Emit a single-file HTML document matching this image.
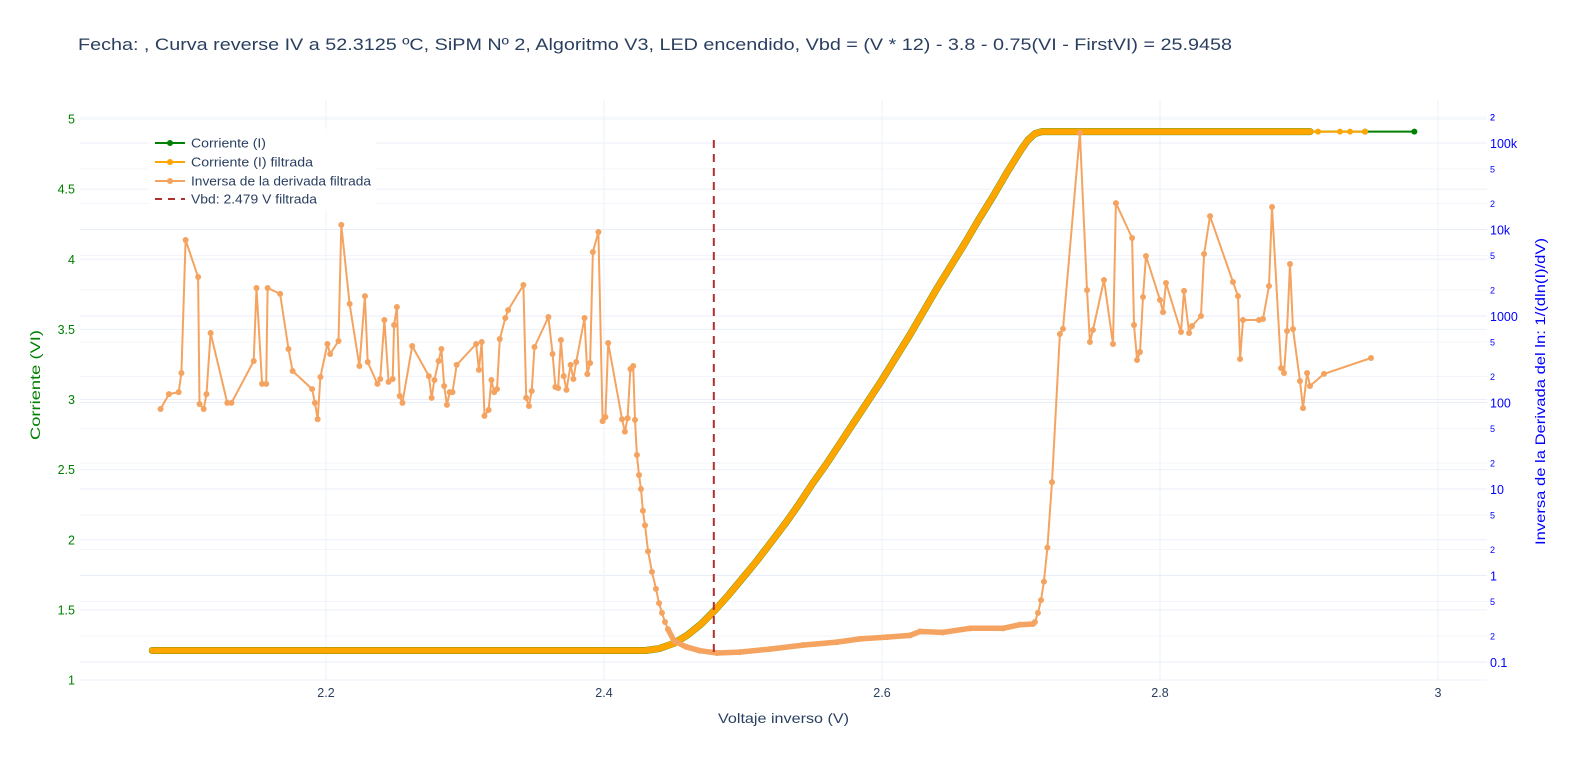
<!DOCTYPE html>
<html><head><meta charset="utf-8"><style>
body{margin:0;background:#fff;font-family:"Liberation Sans",sans-serif}
svg{display:block}
text{font-family:"Liberation Sans",sans-serif}
</style></head><body>
<svg id="chart" width="1576" height="766">
<text x="78" y="50" font-size="17" fill="#2a3f5f" textLength="1154" lengthAdjust="spacingAndGlyphs">Fecha: , Curva reverse IV a 52.3125 ºC, SiPM Nº 2, Algoritmo V3, LED encendido,  Vbd = (V * 12) - 3.8 - 0.75(VI - FirstVI) = 25.9458</text>
<g id="grid"></g>
<g id="axes"></g>
<g id="series"></g>
<text x="718" y="723" font-size="14" fill="#2a3f5f" textLength="131" lengthAdjust="spacingAndGlyphs">Voltaje inverso (V)</text>
<text transform="translate(40,440) rotate(-90)" font-size="14" fill="#008000" textLength="110" lengthAdjust="spacingAndGlyphs">Corriente (VI)</text>
<text transform="translate(1545,545) rotate(-90)" font-size="14" fill="#0000ff" textLength="307" lengthAdjust="spacingAndGlyphs">Inversa de la Derivada del ln: 1/(dln(I)/dV)</text>
<g>
<rect x="148" y="129" width="228" height="82" fill="#fff" fill-opacity="0.9"/>
<g><line x1="155" y1="143" x2="185" y2="143" stroke="#008000" stroke-width="2"/><circle cx="170" cy="143" r="3" fill="#008000"/><text x="191" y="147.5" font-size="12.5" fill="#2a3f5f" textLength="75" lengthAdjust="spacingAndGlyphs">Corriente (I)</text></g>
<g><line x1="155" y1="162" x2="185" y2="162" stroke="#ffa500" stroke-width="2"/><circle cx="170" cy="162" r="3" fill="#ffa500"/><text x="191" y="166.5" font-size="12.5" fill="#2a3f5f" textLength="122" lengthAdjust="spacingAndGlyphs">Corriente (I) filtrada</text></g>
<g><line x1="155" y1="181" x2="185" y2="181" stroke="#f4a460" stroke-width="2"/><circle cx="170" cy="181" r="3" fill="#f4a460"/><text x="191" y="185.5" font-size="12.5" fill="#2a3f5f" textLength="180" lengthAdjust="spacingAndGlyphs">Inversa de la derivada filtrada</text></g>
<g><line x1="155" y1="199" x2="185" y2="199" stroke="#b03030" stroke-width="2" stroke-dasharray="7,6"/><text x="191" y="203.5" font-size="12.5" fill="#2a3f5f" textLength="126" lengthAdjust="spacingAndGlyphs">Vbd: 2.479 V filtrada</text></g>
</g>
</svg>
<script>
const xTicks=[2.2,2.4,2.6,2.8,3.0];
const xTickLabels=["2.2","2.4","2.6","2.8","3"];
const leftTicks=[1,1.5,2,2.5,3,3.5,4,4.5,5];
const leftTickLabels=["1","1.5","2","2.5","3","3.5","4","4.5","5"];
const rightDecades=[0.1,1,10,100,1000,10000,100000];
const rightDecadeLabels=["0.1","1","10","100","1000","10k","100k"];
const vbd=2.479;
const curV=[2.075,2.2,2.3,2.43,2.44,2.45,2.46,2.47,2.48,2.49,2.50,2.51,2.52,2.53,2.54,2.55,2.56,2.57,2.58,2.59,2.60,2.61,2.62,2.63,2.64,2.65,2.66,2.67,2.68,2.69,2.70,2.705,2.71,2.715,2.8,2.908];
const curI=[1.21,1.21,1.21,1.21,1.225,1.26,1.32,1.40,1.50,1.61,1.73,1.85,1.98,2.11,2.25,2.40,2.54,2.69,2.84,2.99,3.14,3.30,3.46,3.63,3.80,3.96,4.12,4.29,4.45,4.62,4.78,4.85,4.895,4.91,4.91,4.91];
const rawTailV=[2.9475,2.983];
const rawTailI=[4.91,4.91];
const filtTailV=[2.9137,2.9295,2.9367,2.9475];
const filtTailI=[4.91,4.91,4.91,4.91];
const derV=[2.081,2.087,2.094,2.096,2.099,2.108,2.109,2.112,2.114,2.117,2.129,2.132,2.148,2.150,2.154,2.157,2.158,2.167,2.173,2.176,2.190,2.192,2.194,2.196,2.201,2.203,2.209,2.211,2.217,2.224,2.228,2.230,2.237,2.239,2.242,2.245,2.248,2.249,2.251,2.253,2.255,2.262,2.274,2.276,2.278,2.281,2.283,2.285,2.287,2.289,2.291,2.294,2.308,2.310,2.312,2.314,2.317,2.319,2.321,2.323,2.325,2.329,2.331,2.342,2.344,2.346,2.348,2.350,2.360,2.363,2.365,2.367,2.369,2.371,2.373,2.376,2.378,2.380,2.386,2.388,2.390,2.392,2.396,2.399,2.401,2.403,2.413,2.415,2.417,2.419,2.421,
2.4223,2.4237,2.4252,2.4266,2.428,2.4295,2.4317,2.4345,2.4374,2.4396,2.4417,2.4439,2.446,2.4504,2.459,2.469,2.4813,2.4978,2.5194,2.5432,2.5676,2.5842,2.6036,2.6201,2.6273,2.6439,2.6633,2.6871,2.6993,2.7086,2.71,2.7122,2.7144,2.7165,2.719,2.7223,2.728,2.7302,2.7424,2.7475,2.7496,2.7518,2.7597,2.7662,2.7683,2.7799,2.7813,2.7835,2.7856,2.7878,2.7899,2.8,2.8022,2.8043,2.8151,2.8173,2.8209,2.823,2.8295,2.8317,2.836,2.8525,2.8561,2.8576,2.8597,2.8712,2.8741,2.8784,2.8806,2.8871,2.8892,2.8914,2.8935,2.8957,2.9007,2.9029,2.9058,2.9079,2.918,2.9518];
const derVal=[84,125,132,219,7560,2820,96,84,125,636,99,99,302,2110,164,164,2110,1800,415,231,143,99,64,197,475,364,514,11300,1380,264,1700,294,164,187,900,173,187,787,1270,119,99,450,202,113,182,302,415,155,94,132,132,272,475,238,500,70,82,182,132,143,542,948,1170,2280,113,91,136,438,973,364,151,147,528,202,140,272,187,294,948,213,286,5500,9350,61,68,487,64,46,66,244,264,
63,24.7,14.5,10,5.6,3.8,1.9,1.1,0.7,0.48,0.37,0.29,0.24,0.175,0.15,0.135,0.127,0.13,0.141,0.157,0.17,0.185,0.194,0.203,0.225,0.22,0.245,0.245,0.27,0.275,0.29,0.37,0.52,0.85,2.1,12,620,710,130000,1990,500,690,2610,475,20200,7980,787,310,384,1660,4940,1530,1110,2410,653,1950,636,766,1000,5210,14300,2470,1700,318,900,900,923,2220,18200,250,219,671,3990,708,177,86,219,155,214,327];

const NS="http://www.w3.org/2000/svg";
const X0=80,X1=1487,Y0=100,Y1=680;
const xS=v=>48+(v-2)*1390;
const yL=i=>680-(i-1)*140.25;
const yR=d=>575.5-86.5*Math.log10(d);
function mk(tag,attrs,parent){const e=document.createElementNS(NS,tag);for(const k in attrs)e.setAttribute(k,attrs[k]);parent.appendChild(e);return e;}
const grid=document.getElementById('grid'),axes=document.getElementById('axes'),series=document.getElementById('series');

rightDecades.forEach(d=>{[1,2,5].forEach(m=>{const v=d*m;if(v>200000)return;const y=yR(v);
 const g=mk('line',{x1:X0,x2:X1,y1:y,y2:y,stroke:m===1?'#e8eef7':'#f1f4fa','stroke-width':1},grid);
 
 
 const t=mk('text',{x:1490,y:y+(m===1?5:3.5),'font-size':m===1?12.5:9,fill:'#0000ff'},axes);
 t.textContent=m===1?rightDecadeLabels[rightDecades.indexOf(d)]:String(m);
 
 
});});
{const y=yR(200000);const t=mk('text',{x:1490,y:y+3.5,'font-size':9,fill:'#0000ff'},axes);t.textContent='2';
 
 }
leftTicks.forEach((v,i)=>{const y=yL(v);
 const g=mk('line',{x1:X0,x2:X1,y1:y,y2:y,stroke:'#ebf0f8','stroke-width':1},grid);
 
 
 const t=mk('text',{x:75,y:y+4.5,'font-size':12.5,fill:'#008000','text-anchor':'end'},axes);
 t.textContent=leftTickLabels[i];
 
 
});
xTicks.forEach((v,i)=>{const x=xS(v);
 const g=mk('line',{x1:x,x2:x,y1:Y0,y2:Y1,stroke:'#ebf0f8','stroke-width':1},grid);
 
 
 const t=mk('text',{x:x,y:697,'font-size':12.5,fill:'#2a3f5f','text-anchor':'middle'},axes);
 t.textContent=xTickLabels[i];
 
 
});

function poly(xs,ys,fx,fy,color,w,name){
 const pts=xs.map((v,i)=>fx(v).toFixed(1)+','+fy(ys[i]).toFixed(1)).join(' ');
 const p=mk('polyline',{points:pts,fill:'none',stroke:color,'stroke-width':w,'stroke-linejoin':'round','stroke-linecap':'round'},series);
 
 
}
function dots(xs,ys,fx,fy,color,name){
 xs.forEach((v,i)=>{const c=mk('circle',{cx:fx(v),cy:fy(ys[i]),r:3,fill:color},series);
  
  });
}
poly(curV.concat(rawTailV),curI.concat(rawTailI),xS,yL,'#008000',2,'corriente-line');
poly(curV,curI,xS,yL,'#008000',7,'corriente-dense-markers');
dots(rawTailV,rawTailI,xS,yL,'#008000','corriente-point');
poly(curV.concat(filtTailV),curI.concat(filtTailI),xS,yL,'#ffa500',2,'corriente-filtrada-line');
poly(curV,curI,xS,yL,'#ffa500',6.5,'corriente-filtrada-dense-markers');
dots(filtTailV,filtTailI,xS,yL,'#ffa500','corriente-filtrada-point');
poly(derV,derVal,xS,yR,'#f4a460',2,'inversa-derivada-line');
dots(derV,derVal,xS,yR,'#f4a460','inversa-derivada-point');
{const dv=[],dd=[];derV.forEach((v,i)=>{if(v>2.445&&v<2.711){dv.push(v);dd.push(derVal[i]);}});
 poly(dv,dd,xS,yR,'#f4a460',5.5,'inversa-derivada-dense-markers');}
{const l=mk('line',{x1:xS(vbd),x2:xS(vbd),y1:140,y2:652,stroke:'#b03030','stroke-width':2,'stroke-dasharray':'8,6'},series);
 
 }
</script>
</body></html>
